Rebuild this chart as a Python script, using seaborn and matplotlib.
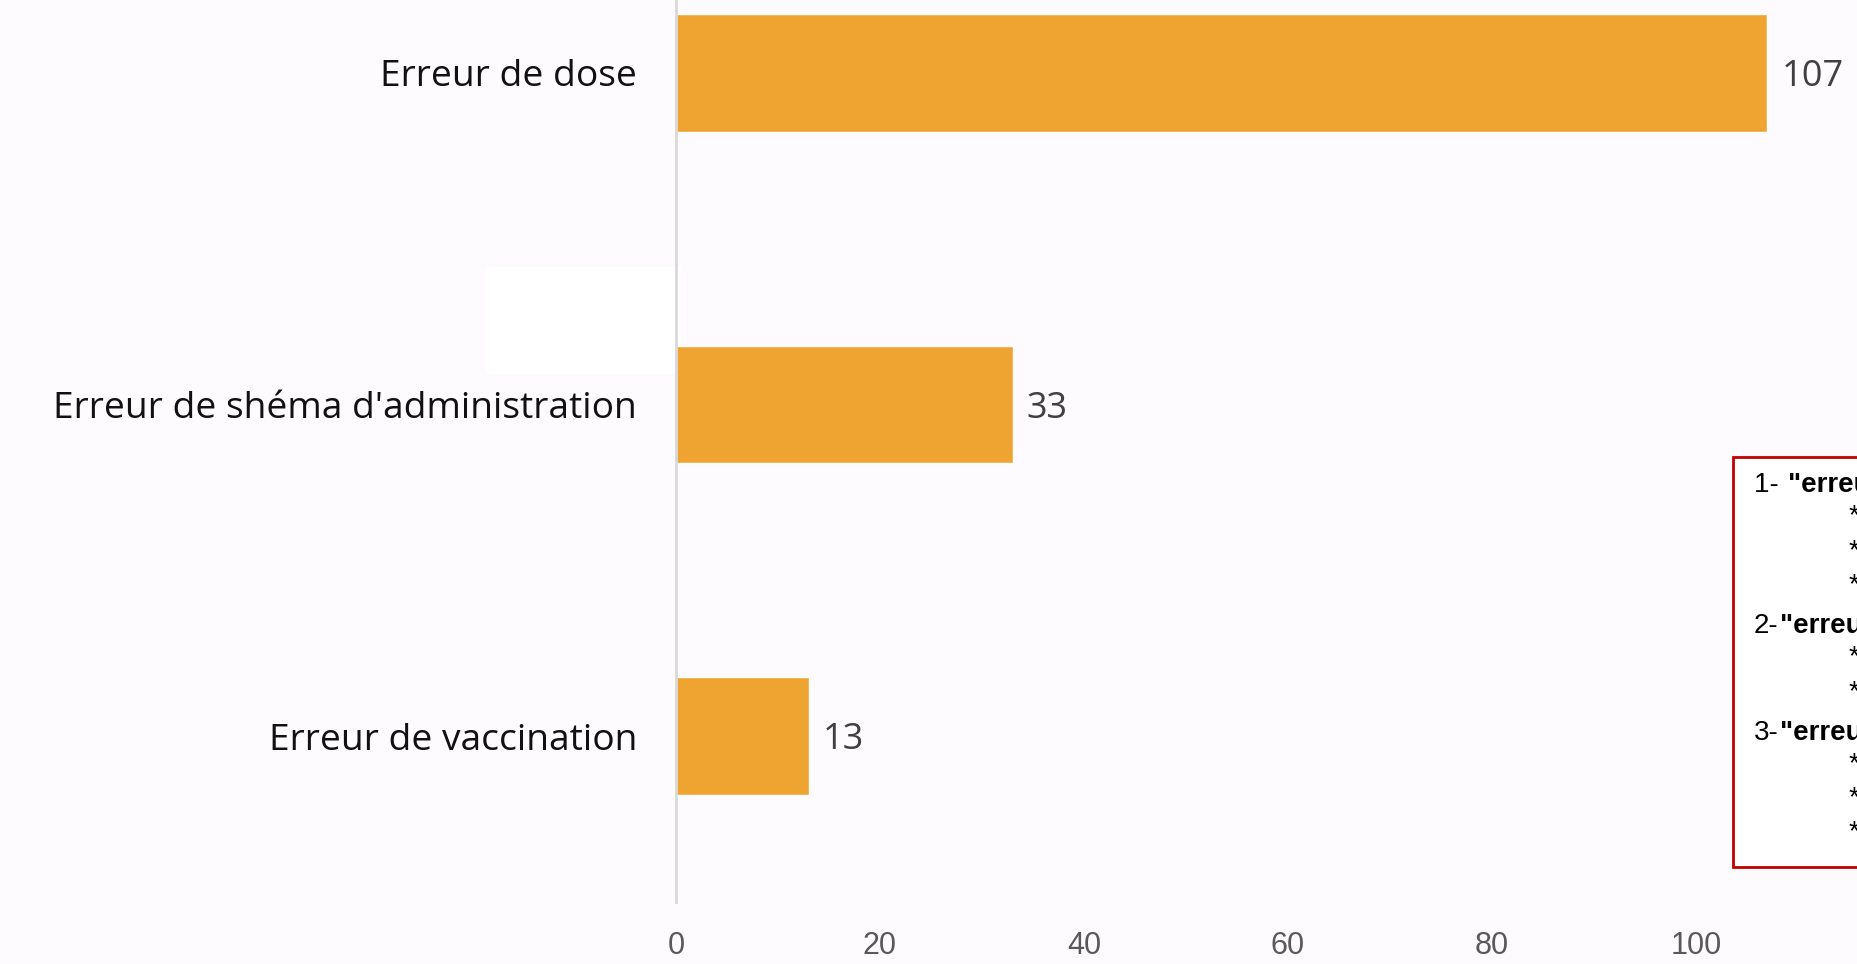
import matplotlib
matplotlib.use('Agg')
import matplotlib.pyplot as plt
import seaborn as sns
import pandas as pd
from matplotlib.patches import Rectangle

# data
categories = ['Erreur de dose', "Erreur de shéma d'administration", 'Erreur de vaccination']
counts = [107, 33, 13]
x_ticks = [0, 20, 40, 60, 80, 100]

# note box on the right (cut by the picture edge)
note_heads = ['1- ', '2-', '3-']
note_titles = ['"erreur de dose" :', "\"erreur de shéma d'administration\" :", '"erreur de vaccination" :']
note_items = [['* surdosage', '* sous-dosage', '* dose inadaptée'],
              ['* intervalle non respecté', '* rappel oublié'],
              ['* mauvais vaccin', '* mauvaise voie', '* vaccin périmé']]

bg = '#FDFBFE'
bar_color = '#EFA330'

sns.set_theme(style='white')
plt.rcParams['font.family'] = ['Open Sans', 'DejaVu Sans']

df = pd.DataFrame({'categorie': categories, 'nombre': counts})

fig = plt.figure(figsize=(18.57, 9.64), dpi=100, facecolor=bg)
ax = fig.add_axes([676 / 1857, 1 - 902 / 964, 1224 / 1857, (902 + 93) / 964])
ax.set_facecolor('none')
ax.set_zorder(2)

sns.barplot(data=df, x='nombre', y='categorie', orient='h', color=bar_color,
            width=0.355, saturation=1, ax=ax)
labels = ax.bar_label(ax.containers[0], padding=10, fontsize=26, color='#404040')
for lab in labels:
    lab.xyann = (10, -3)

ax.set_xlim(0, 120)
ax.set_ylim(2.5, -0.5)
ax.set_xticks(x_ticks)
ax.set_xticklabels([str(t) for t in x_ticks], family='Liberation Sans', fontsize=22, color='#595959')
ax.tick_params(axis='x', length=0, pad=21)
ax.tick_params(axis='y', length=0, pad=28, labelsize=26.7, labelcolor='#111111')
ax.set_xlabel('')
ax.set_ylabel('')
for s in ['top', 'right', 'bottom']:
    ax.spines[s].set_visible(False)
ax.spines['left'].set_color('#D9D9D9')
ax.spines['left'].set_linewidth(2)

# white patch left of the middle bar
fig.patches.append(Rectangle((486 / 1857, 1 - 374 / 964), (681 - 486) / 1857, 107 / 964,
                             transform=fig.transFigure, facecolor='white', edgecolor='none', zorder=0))

# note box
fig.patches.append(Rectangle((1733 / 1857, 1 - 867 / 964), 0.2, 410 / 964, transform=fig.transFigure,
                             facecolor='white', edgecolor='#C00000', linewidth=2, zorder=3))
ys = [485, 517, 552, 586, 626, 658, 693, 733, 765, 799, 833]
i = 0
for head, title, items in zip(note_heads, note_titles, note_items):
    y = 1 - ys[i] / 964
    t = fig.text(1754 / 1857, y, head, family='Liberation Sans', fontsize=20, va='center', color='black', zorder=4)
    fig.canvas.draw()
    bb = t.get_window_extent()
    fig.text(bb.x1 / 1857 + 1 / 1857, y, title, family='Liberation Sans', fontsize=20, fontweight='bold',
             va='center', color='black', zorder=4)
    i += 1
    for it in items:
        fig.text(1849 / 1857, 1 - ys[i] / 964, it, family='Liberation Sans', fontsize=20,
                 va='center', color='black', zorder=4)
        i += 1

fig.savefig('out.png', dpi=100, facecolor=bg)
